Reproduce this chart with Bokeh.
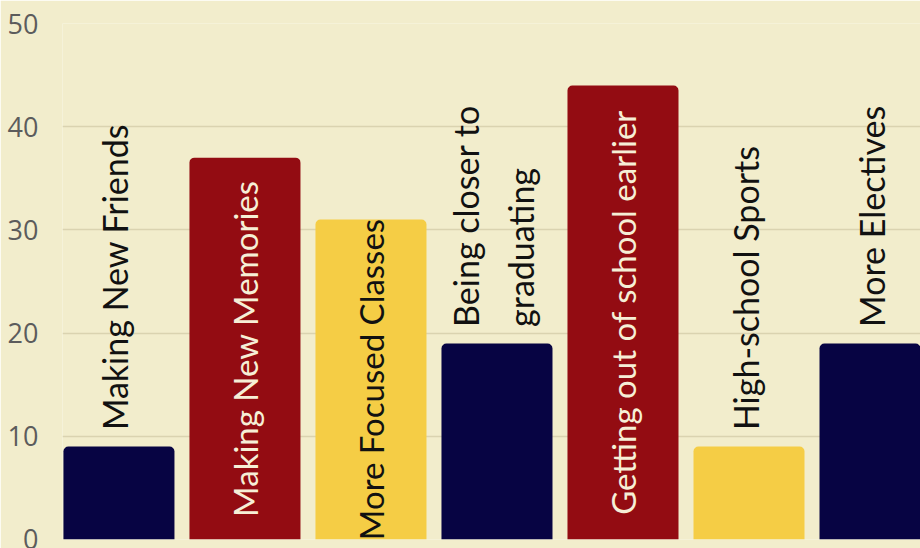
import math
from bokeh.plotting import figure
from bokeh.models import ColumnDataSource, Range1d, FixedTicker
from bokeh.core.properties import value
from bokeh.embed import file_html
from bokeh.resources import INLINE

categories = ["Making New Friends", "Making New Memories", "More Focused Classes",
              "Being closer to\ngraduating", "Getting out of school earlier",
              "High-school Sports", "More Electives"]
values = [9, 37, 31, 19, 44, 9, 19]
bar_colors = ["#070443", "#930c12", "#f5cd45", "#070443", "#930c12", "#f5cd45", "#070443"]
label_inside = [False, True, True, False, True, False, False]
label_colors = ["#111111", "#f6efd6", "#111111", "#111111", "#f6efd6", "#111111", "#111111"]
y_ticks = [0, 10, 20, 30, 40, 50]

BG = "#f2edcc"
LABEL_FONT = "Lato"

xs = list(range(len(categories)))

p = figure(width=920, height=548, output_backend="svg", toolbar_location=None,
           x_range=Range1d(-0.448, 6.361), y_range=Range1d(0, 50),
           x_axis_location=None,
           min_border_left=62, min_border_right=0, min_border_top=23, min_border_bottom=9,
           background_fill_color=BG, border_fill_color=BG, outline_line_color=None)

p.yaxis.ticker = FixedTicker(ticks=y_ticks)
p.yaxis.axis_line_color = None
p.yaxis.major_tick_line_color = None
p.yaxis.minor_tick_line_color = None
p.yaxis.major_tick_out = 0
p.yaxis.major_tick_in = 0
p.yaxis.major_label_standoff = 24
p.yaxis.major_label_text_font = "Open Sans"
p.yaxis.major_label_text_font_size = "27px"
p.yaxis.major_label_text_color = "#5c5c5c"
p.ygrid.grid_line_color = "#dad3b0"
p.ygrid.grid_line_width = 1.5
p.xgrid.visible = False

bars = ColumnDataSource(dict(x=xs, top=values, color=bar_colors))
p.vbar(x="x", top="top", bottom=0, width=0.881, source=bars,
       fill_color="color", line_color=None, border_radius=(5, 5, 0, 0))

out_idx = [i for i in xs if not label_inside[i]]
in_idx = [i for i in xs if label_inside[i]]

out_src = ColumnDataSource(dict(
    x=[xs[i] for i in out_idx],
    y=[values[i] + 1.6 for i in out_idx],
    text=[categories[i] for i in out_idx],
    color=[label_colors[i] for i in out_idx]))
in_src = ColumnDataSource(dict(
    x=[xs[i] for i in in_idx],
    y=[values[i] / 2 for i in in_idx],
    text=[categories[i] for i in in_idx],
    color=[label_colors[i] for i in in_idx]))

p.text(x="x", y="y", text="text", source=out_src, angle=math.pi / 2,
       text_align="left", text_baseline="middle", text_color="color",
       text_font=value(LABEL_FONT), text_font_size="34px", text_line_height=1.35,
       x_offset=-4)
p.text(x="x", y="y", text="text", source=in_src, angle=math.pi / 2,
       text_align="center", text_baseline="middle", text_color="color",
       text_font=value(LABEL_FONT), text_font_size="33px")

open("out.html", "w").write(file_html(p, INLINE))
